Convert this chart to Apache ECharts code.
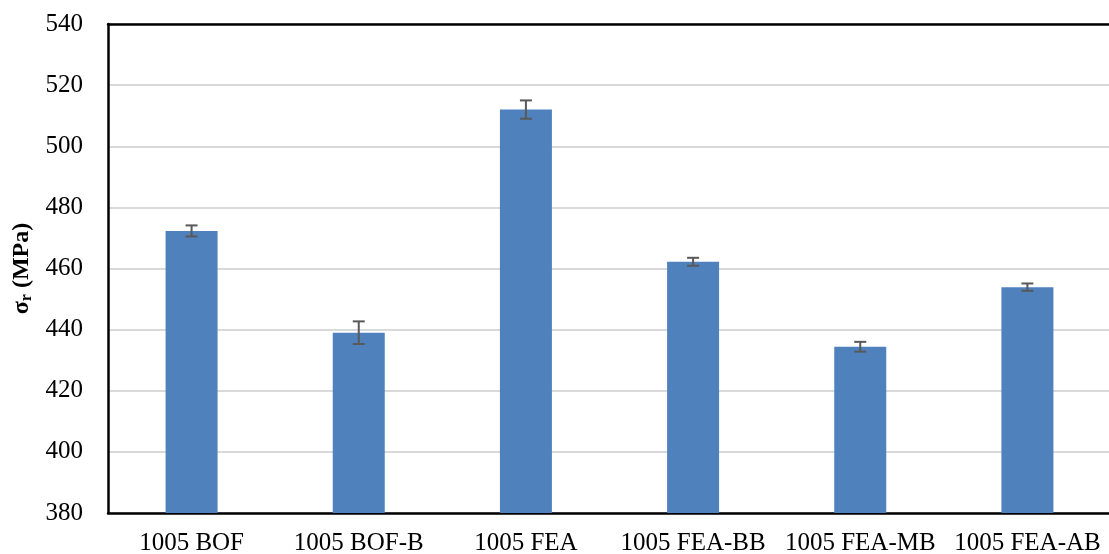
<!DOCTYPE html>
<html>
<head>
<meta charset="utf-8">
<script src="https://cdn.jsdelivr.net/npm/echarts@6/dist/echarts.min.js"></script>
<style>
  html, body { margin: 0; padding: 0; background: #fff; }
  #chart { width: 1109px; height: 554px; }
</style>
</head>
<body>
<div id="chart"></div>
<script>
// Rupture strength by specimen group, mean with standard deviation
const categories = ['1005 BOF', '1005 BOF-B', '1005 FEA', '1005 FEA-BB', '1005 FEA-MB', '1005 FEA-AB'];
const strength = [472.3, 439.0, 512.0, 462.2, 434.4, 453.9];
const deviation = [1.8, 3.7, 3.0, 1.3, 1.6, 1.2];
const yTicks = [380, 400, 420, 440, 460, 480, 500, 520, 540];

const fontFamily = '"Liberation Serif", "Times New Roman", serif';

const errorData = strength.map((v, i) => [i, v - deviation[i], v + deviation[i]]);

const chart = echarts.init(document.getElementById('chart'), null, { renderer: 'canvas' });

const frameLine = { show: true, lineStyle: { color: '#000', width: 2.5 } };

chart.setOption({
  animation: false,
  grid: {
    left: 108, right: -2, top: 24, bottom: 41,
    containLabel: false,
    outerBoundsMode: 'none'
  },
  xAxis: [
    {
      type: 'category',
      data: categories,
      axisLine: frameLine,
      axisTick: { show: false },
      axisLabel: { color: '#000', fontFamily, fontSize: 25, margin: 18, interval: 0, hideOverlap: false }
    },
    {
      // top edge of the plot frame
      type: 'category',
      data: categories,
      position: 'top',
      axisLine: frameLine,
      axisTick: { show: false },
      axisLabel: { show: false }
    }
  ],
  yAxis: {
    type: 'value',
    min: yTicks[0],
    max: yTicks[yTicks.length - 1],
    interval: 20,
    axisLine: frameLine,
    axisTick: { show: false },
    splitLine: { lineStyle: { color: '#d9d9d9', width: 2 } },
    axisLabel: { color: '#000', fontFamily, fontSize: 25, margin: 25 },
    name: '{b|σ}{s|r}{b| (MPa)}',
    nameLocation: 'middle',
    nameGap: 73,
    nameRotate: 90,
    nameTextStyle: {
      rich: {
        b: { fontFamily, fontSize: 24, fontWeight: 'bold', color: '#000' },
        s: { fontFamily, fontSize: 16, fontWeight: 'bold', color: '#000', verticalAlign: 'bottom', padding: [9, 0, 0, 0] }
      }
    }
  },
  series: [
    {
      type: 'bar',
      data: strength,
      barWidth: 52,
      itemStyle: { color: '#4f81bd' }
    },
    {
      type: 'custom',
      data: errorData,
      z: 10,
      renderItem: function (params, api) {
        const x = api.value(0);
        const lo = api.coord([x, api.value(1)]);
        const hi = api.coord([x, api.value(2)]);
        const cap = 6;
        const style = { stroke: '#595959', lineWidth: 2, fill: null };
        return {
          type: 'group',
          children: [
            { type: 'line', shape: { x1: hi[0], y1: hi[1], x2: lo[0], y2: lo[1] }, style },
            { type: 'line', shape: { x1: hi[0] - cap, y1: hi[1], x2: hi[0] + cap, y2: hi[1] }, style },
            { type: 'line', shape: { x1: lo[0] - cap, y1: lo[1], x2: lo[0] + cap, y2: lo[1] }, style }
          ]
        };
      }
    }
  ]
});
</script>
</body>
</html>
